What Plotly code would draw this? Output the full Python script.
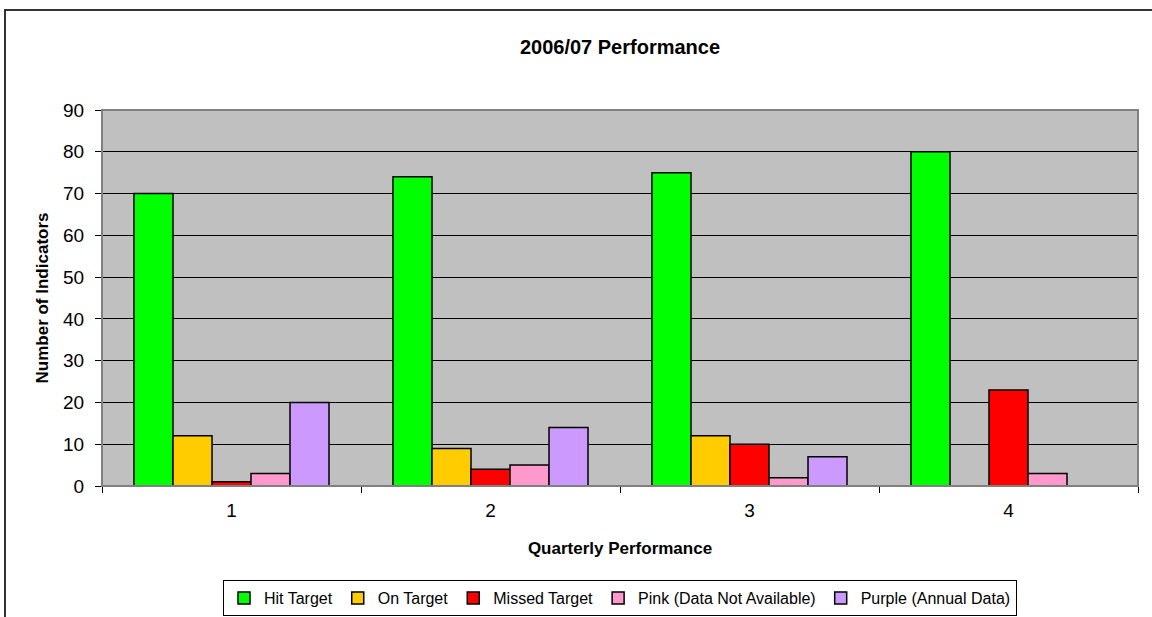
import plotly.graph_objects as go

categories = ["1", "2", "3", "4"]
series_names = ["Hit Target", "On Target", "Missed Target", "Pink (Data Not Available)", "Purple (Annual Data)"]
hit_target = [70, 74, 75, 80]
on_target = [12, 9, 12, 0]
missed_target = [1, 4, 10, 23]
pink_na = [3, 5, 2, 3]
purple_annual = [20, 14, 7, 0]
colors = ["#00FF00", "#FFCC00", "#FF0000", "#FF99CC", "#CC99FF"]

values = [hit_target, on_target, missed_target, pink_na, purple_annual]

fig = go.Figure()
for name, vals, col in zip(series_names, values, colors):
    fig.add_trace(go.Bar(
        x=categories, y=vals, name=name,
        marker=dict(color=col, line=dict(color="black", width=1.5)),
    ))

L, R, T, B = 102, 14, 110, 131
W, H = 1152, 617
pw = W - L - R
ph = H - T - B

fig.update_layout(
    width=W, height=H,
    margin=dict(l=L, r=R, t=T, b=B, autoexpand=False),
    paper_bgcolor="white",
    plot_bgcolor="#C0C0C0",
    barmode="group",
    bargap=0.247,
    bargroupgap=0,
    font=dict(family="Arial, Liberation Sans", color="black"),
    title=dict(text="<b>2006/07 Performance</b>", x=0.5 * (L + L + pw) / W, xanchor="center",
               y=1 - 47 / H, yanchor="middle", font=dict(size=20)),
    showlegend=True,
    legend=dict(orientation="h", x=0.5, xanchor="center", y=(486 - 580) / ph, yanchor="top",
                bordercolor="black", borderwidth=1, font=dict(size=16),
                itemwidth=30, traceorder="normal", tracegroupgap=0),
    xaxis=dict(
        title=dict(text="<b>Quarterly Performance</b>", font=dict(size=17), standoff=22),
        tickfont=dict(size=19), ticks="outside", tickson="boundaries", ticklen=6,
        ticklabelstandoff=7, automargin=False,
        tickcolor="black", showline=True, linecolor="black", linewidth=1,
        showgrid=False,
    ),
    yaxis=dict(
        title=dict(text="<b>Number of Indicators</b>", font=dict(size=17), standoff=10),
        range=[0, 90], dtick=10, tickfont=dict(size=19), ticks="outside", ticklen=6,
        ticklabelstandoff=7, automargin=False,
        tickcolor="black", showline=True, linecolor="#808080", linewidth=1,
        showgrid=True, gridcolor="black", gridwidth=1, zeroline=False,
    ),
)

# plot area border (top/right gray)
fig.add_shape(type="rect", xref="paper", yref="paper", x0=0, x1=1, y0=0, y1=1,
              line=dict(color="#808080", width=2), layer="above")
# outer chart border
fig.add_shape(type="rect", xref="paper", yref="paper",
              x0=(5 - L) / pw, x1=(W + 10 - L) / pw,
              y0=(486 - (H + 10)) / ph, y1=(486 - 10) / ph,
              line=dict(color="#333333", width=2))

fig.write_html("out.html", config={"displayModeBar": False},
               post_script="document.body.style.margin='0';document.body.style.padding='0';")
